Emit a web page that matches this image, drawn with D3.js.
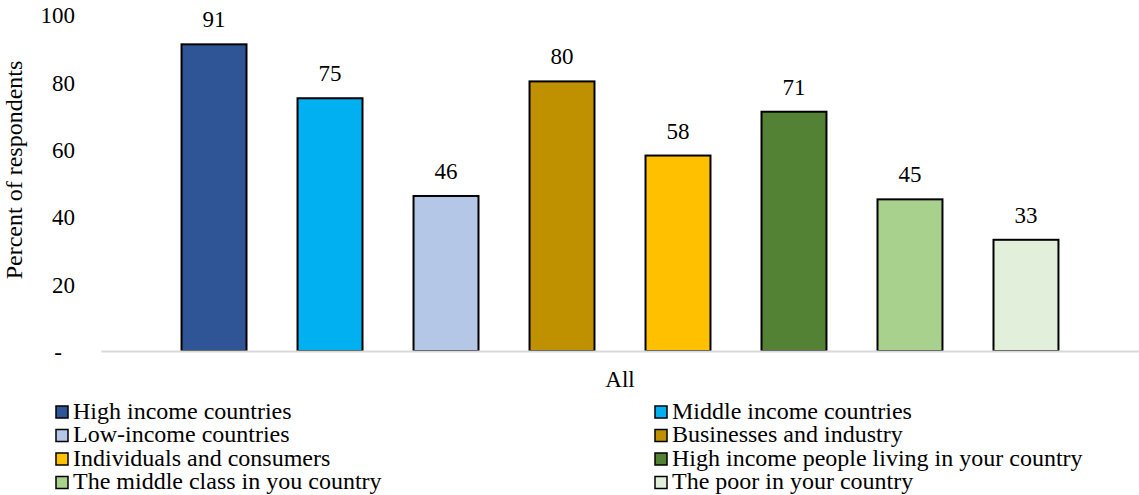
<!DOCTYPE html>
<html>
<head>
<meta charset="utf-8">
<script src="https://cdn.jsdelivr.net/npm/d3@7"></script>
<style>
  html, body { margin: 0; padding: 0; background: #fff; }
  svg { display: block; font-family: "Liberation Serif", "Times New Roman", serif; }
</style>
</head>
<body>
<svg id="chart" width="1139" height="495"></svg>
<script>
// Survey responses: share of respondents naming each group
const categories = ["All"];
const seriesNames = [
  "High income countries",
  "Middle income countries",
  "Low-income countries",
  "Businesses and industry",
  "Individuals and consumers",
  "High income people living in your country",
  "The middle class in you country",
  "The poor in your country"
];
const seriesValues = [91, 75, 46, 80, 58, 71, 45, 33];
const seriesColors = ["#2F5597", "#00B0F0", "#B4C7E7", "#BF9000", "#FFC000", "#548235", "#A9D18E", "#E2EFDA"];
const yTicks = [0, 20, 40, 60, 80, 100];
const yTickLabels = ["-", "20", "40", "60", "80", "100"];
const yTitle = "Percent of respondents";

const svg = d3.select("#chart");
const plot = { left: 101, right: 1139, top: 14, bottom: 351 };

const y = d3.scaleLinear().domain([0, 100]).range([plot.bottom, plot.top]);

const x0 = d3.scaleBand()
  .domain(categories)
  .range([plot.left, plot.right])
  .paddingInner(0)
  .paddingOuter(0.0593);

const x1 = d3.scaleBand()
  .domain(seriesNames)
  .range([0, x0.bandwidth()])
  .paddingInner(0.44)
  .paddingOuter(0.22);

// Y axis labels (no axis line, no tick marks)
const yAxis = d3.axisLeft(y)
  .tickValues(yTicks)
  .tickSize(0)
  .tickPadding(0)
  .tickFormat((d, i) => yTickLabels[i]);

const yG = svg.append("g")
  .attr("transform", `translate(75,0)`)
  .call(yAxis);
yG.select(".domain").remove();
yG.selectAll("text")
  .attr("font-family", "Liberation Serif, Times New Roman, serif")
  .attr("font-size", 23)
  .attr("fill", "#000")
  .attr("dy", "0.38em");
yG.selectAll(".tick").filter(d => d === 0).select("text").attr("dx", -13);

// Y axis title
svg.append("text")
  .attr("transform", `translate(22,170) rotate(-90)`)
  .attr("text-anchor", "middle")
  .attr("font-size", 24)
  .attr("fill", "#000")
  .text(yTitle);

// Bars
const group = svg.append("g")
  .selectAll("g")
  .data(categories)
  .join("g")
  .attr("transform", d => `translate(${x0(d)},0)`);

group.selectAll("rect")
  .data(seriesNames.map((name, i) => ({ name, value: seriesValues[i], color: seriesColors[i] })))
  .join("rect")
  .attr("x", d => x1(d.name))
  .attr("y", d => y(d.value))
  .attr("width", x1.bandwidth())
  .attr("height", d => y(0) - y(d.value))
  .attr("fill", d => d.color)
  .attr("stroke", "#000")
  .attr("stroke-width", 2);

// Value labels
group.selectAll("text.value")
  .data(seriesNames.map((name, i) => ({ name, value: seriesValues[i] })))
  .join("text")
  .attr("class", "value")
  .attr("x", d => x1(d.name) + x1.bandwidth() / 2)
  .attr("y", d => y(d.value) - 17)
  .attr("text-anchor", "middle")
  .attr("font-size", 23)
  .attr("fill", "#000")
  .text(d => d.value);

// X axis baseline
const xAxis = d3.axisBottom(x0).tickSize(0).tickPadding(0);
const xG = svg.append("g")
  .attr("transform", `translate(0,${plot.bottom})`)
  .call(xAxis);
xG.select(".domain")
  .attr("stroke", "#D9D9D9")
  .attr("stroke-width", 2);
xG.selectAll("text")
  .attr("font-family", "Liberation Serif, Times New Roman, serif")
  .attr("font-size", 23)
  .attr("fill", "#000")
  .attr("dy", null)
  .attr("y", 36);

// Legend: two columns, four rows
const legend = svg.append("g");
const legendCols = [56, 655];
const legendTop = 412;
const rowGap = 23.5;
const items = legend.selectAll("g")
  .data(seriesNames.map((name, i) => ({ name, color: seriesColors[i], i })))
  .join("g")
  .attr("transform", d => `translate(${legendCols[d.i % 2]},${legendTop + Math.floor(d.i / 2) * rowGap})`);

items.append("rect")
  .attr("x", 0)
  .attr("y", -6)
  .attr("width", 12)
  .attr("height", 12)
  .attr("fill", d => d.color)
  .attr("stroke", "#000")
  .attr("stroke-width", 1.5);

items.append("text")
  .attr("x", 17)
  .attr("y", 0)
  .attr("dy", "0.28em")
  .attr("font-size", 24)
  .attr("fill", "#000")
  .text(d => d.name);
</script>
</body>
</html>
